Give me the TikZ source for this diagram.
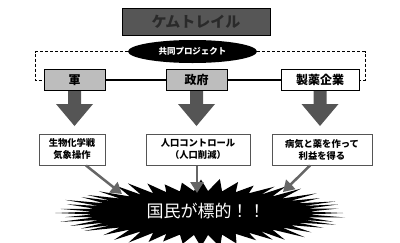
\documentclass[tikz,border=0pt]{standalone}
\usepackage{fontspec}
\setmainfont{Noto Sans CJK JP}
\usetikzlibrary{shapes.geometric,calc,arrows.meta}
\definecolor{titlefill}{HTML}{565656}
\definecolor{titletext}{HTML}{2A2A2A}
\definecolor{boxgray}{HTML}{BDBDBD}
\definecolor{arrowdark}{HTML}{555555}
\definecolor{arrowgray}{HTML}{666666}
\tikzset{
  titlebox/.style={draw=black, line width=1pt, fill=titlefill, text=titletext,
    minimum width=148pt, minimum height=27pt, inner sep=0pt, font=\bfseries\fontsize{15}{16}\selectfont},
  projell/.style={ellipse, fill=black, text=white, minimum width=129pt, minimum height=23pt,
    inner sep=0pt, font=\bfseries\fontsize{8.5}{9}\selectfont},
  orgbox/.style={draw=black, line width=1pt, minimum height=21pt, inner sep=0pt,
    font=\bfseries\fontsize{12}{13}\selectfont},
  aimbox/.style={draw=arrowdark, line width=1pt, fill=white, minimum height=31pt, inner sep=0pt,
    align=center, font=\bfseries\fontsize{9.3}{12}\selectfont},
  dashlink/.style={densely dashed, line width=0.8pt},
  solidlink/.style={line width=1.3pt},
  thinarrow/.style={draw=arrowgray, line width=2.5pt, -{Triangle[width=13pt,length=11pt]}},
  bigarrow/.style={fill=arrowdark}
}
\begin{document}
\begin{tikzpicture}[x=1pt,y=-1pt]
\useasboundingbox (0,0) rectangle (400,242);
% starburst
\fill[black] (343,213)
  \foreach \i in {0,...,47} {
    -- ({201+(142+5*sin(\i*137))*cos(\i*7.5)},{213+(32+2.5*sin(\i*71))*sin(\i*7.5)})
    -- ({201+108*cos(\i*7.5+3.75)},{213+22*sin(\i*7.5+3.75)})
  } -- cycle;
\node[text=white, font=\fontsize{17}{18}\selectfont, inner sep=0pt] (target) at (206,211) {国民が標的！！};

% title and project
\node[titlebox] (title) at (196,21.5) {ケムトレイル};
\node[projell] (proj) at (192.5,51.5) {共同プロジェクト};

% organisations
\node[orgbox, fill=boxgray, minimum width=61pt] (gun) at (74.5,80) {軍};
\node[orgbox, fill=boxgray, minimum width=61pt] (gov) at (196.5,80) {政府};
\node[orgbox, fill=white, minimum width=78pt] (pharma) at (320,80) {製薬企業};

\coordinate (dl) at (35,80);
\coordinate (dr) at (365,80);
\draw[dashlink] (proj.west) -| (dl) -- (gun.west);
\draw[dashlink] (proj.east) -| (dr) -- (pharma.east);
\draw[solidlink] (gun.east) -- (gov.west);
\draw[solidlink] (gov.east) -- (pharma.west);

% aims
\node[aimbox, minimum width=66pt] (b1) at (72,149.5) {生物化学戦\\気象操作};
\node[aimbox, minimum width=104pt] (b2) at (198,149.5) {人口コントロール\\（人口削減）};
\node[aimbox, minimum width=100pt] (b3) at (322,149.5) {病気と薬を作って\\利益を得る};

% big block arrows
\foreach \s in {gun,gov,pharma} {
  \fill[bigarrow] ($(\s.south)+(-6.5,0)$) -- ($(\s.south)+(-6.5,13)$) -- ($(\s.south)+(-18.5,13)$)
    -- ($(\s.south)+(0,35)$) -- ($(\s.south)+(18.5,13)$) -- ($(\s.south)+(6.5,13)$)
    -- ($(\s.south)+(6.5,0)$) -- cycle;
}

% thin arrows to target
\coordinate (e1) at (122,194);
\coordinate (e2) at (197,193);
\coordinate (e3) at (283,192);
\draw[thinarrow] ($(b1.south)+(14,0)$) -- (e1);
\draw[thinarrow] ($(b2.south)+(-1,0)$) -- (e2);
\draw[thinarrow] ($(b3.south)+(-12,0)$) -- (e3);
\end{tikzpicture}
\end{document}
